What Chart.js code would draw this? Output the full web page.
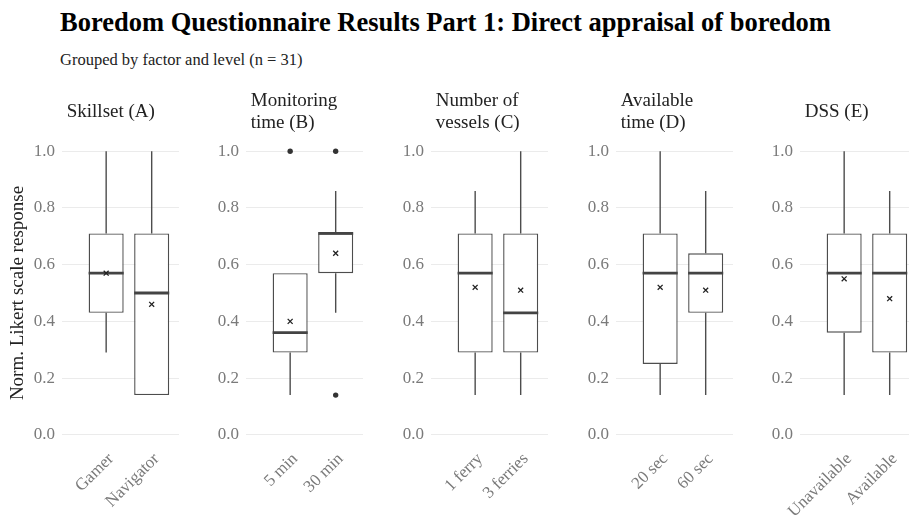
<!DOCTYPE html>
<html>
<head>
<meta charset="utf-8">
<script src="https://cdn.jsdelivr.net/npm/chart.js@4.4.1/dist/chart.umd.min.js"></script>
<style>
  body { margin: 0; width: 909px; height: 517px; overflow: hidden; background: #fff; position: relative; font-family: 'Liberation Serif', 'DejaVu Serif', serif; }
  #title { position: absolute; left: 60px; top: 7px; font-size: 26.5px; font-weight: bold; color: #000; white-space: nowrap; }
  #subtitle { position: absolute; left: 60px; top: 50px; font-size: 16.5px; color: #222; white-space: nowrap; }
  .panel { position: absolute; top: 80px; }
</style>
</head>
<body>
<div id="title">Boredom Questionnaire Results Part 1: Direct appraisal of boredom</div>
<div id="subtitle">Grouped by factor and level (n = 31)</div>

<script>
// facet titles and levels
const facetTitles = [['Skillset (A)'], ['Monitoring', 'time (B)'], ['Number of', 'vessels (C)'], ['Available', 'time (D)'], ['DSS (E)']];
const levels = [['Gamer', 'Navigator'], ['5 min', '30 min'], ['1 ferry', '3 ferries'], ['20 sec', '60 sec'], ['Unavailable', 'Available']];

// box statistics per facet: [level1, level2]
const whiskerLow = [[0.29, 0.14], [0.14, 0.43], [0.14, 0.14], [0.14, 0.14], [0.14, 0.14]];
const q1 = [[0.43, 0.14], [0.29, 0.57], [0.29, 0.29], [0.25, 0.43], [0.36, 0.29]];
const median = [[0.57, 0.50], [0.36, 0.71], [0.57, 0.43], [0.57, 0.57], [0.57, 0.57]];
const q3 = [[0.71, 0.71], [0.57, 0.71], [0.71, 0.71], [0.71, 0.64], [0.71, 0.71]];
const whiskerHigh = [[1.0, 1.0], [0.57, 0.86], [0.86, 1.0], [1.0, 0.86], [1.0, 0.86]];
const mean = [[0.57, 0.46], [0.40, 0.64], [0.52, 0.51], [0.52, 0.51], [0.55, 0.48]];
const outliers = [[[], []], [[1.0], [1.0, 0.14]], [[], []], [[], []], [[], []]];

const yTicks = [0, 0.2, 0.4, 0.6, 0.8, 1.0];

const FONT = "'Liberation Serif', 'DejaVu Serif', serif";
const LINE = '#4d4d4d';
const gridStarts = [62, 246, 431, 616, 800];
const plotW = 117;
const halfBox = 0.385;

Chart.defaults.font.family = FONT;

gridStarts.forEach((gs, f) => {
  const axisW = f === 0 ? 62 : 44;
  const div = document.createElement('div');
  div.className = 'panel';
  div.style.left = (gs - axisW) + 'px';
  const cv = document.createElement('canvas');
  cv.width = axisW + plotW;
  cv.height = 437;
  div.appendChild(cv);
  document.body.appendChild(div);

  const whiskers = [], medians = [], boxes = [], means = [], outs = [];
  for (let i = 0; i < 2; i++) {
    whiskers.push({x: i, y: whiskerLow[f][i]}, {x: i, y: q1[f][i]}, {x: i, y: null},
                  {x: i, y: q3[f][i]}, {x: i, y: whiskerHigh[f][i]}, {x: i, y: null});
    medians.push({x: i - halfBox, y: median[f][i]}, {x: i + halfBox, y: median[f][i]}, {x: i, y: null});
    boxes.push({x: i, y: [q1[f][i], q3[f][i]]});
    means.push({x: i, y: mean[f][i]});
    outliers[f][i].forEach(v => outs.push({x: i, y: v}));
  }

  const oneLine = facetTitles[f].length === 1;

  new Chart(cv, {
    type: 'bar',
    data: {
      datasets: [
        { type: 'scatter', data: means, pointStyle: 'crossRot', pointRadius: 3.5, borderColor: '#222', borderWidth: 1.3, order: 0 },
        { type: 'scatter', data: outs, pointStyle: 'circle', pointRadius: 2.7, backgroundColor: '#333', borderColor: '#333', borderWidth: 0, order: 0 },
        { type: 'line', data: medians, borderColor: '#444', borderWidth: 2.8, pointRadius: 0, spanGaps: false, order: 1 },
        { type: 'bar', data: boxes, backgroundColor: '#fff', borderColor: LINE, borderWidth: 1.4, borderSkipped: false,
          barPercentage: 2 * halfBox, categoryPercentage: 1, order: 2 },
        { type: 'line', data: whiskers, borderColor: LINE, borderWidth: 1.4, pointRadius: 0, spanGaps: false, order: 3 }
      ]
    },
    options: {
      responsive: false,
      animation: false,
      devicePixelRatio: 1,
      layout: { padding: 0, autoPadding: false },
      plugins: {
        legend: { display: false },
        tooltip: { enabled: false },
        title: {
          display: true,
          text: facetTitles[f].map(t => ' ' + t),
          align: 'start',
          fullSize: false,
          color: '#222',
          font: { size: 19, weight: 'normal', lineHeight: 1.2 },
          padding: oneLine ? { top: 20.6, bottom: 13.6 } : { top: 9.2, bottom: 2.2 }
        }
      },
      scales: {
        x: {
          type: 'linear',
          min: -0.97,
          max: 1.6,
          offset: false,
          grid: { display: false, drawTicks: false },
          border: { display: false },
          afterBuildTicks: s => { s.ticks = [{value: 0}, {value: 1}]; },
          afterFit: s => { s.height = 437 - 369; s.paddingLeft = 0; s.paddingRight = 0; },
          ticks: {
            minRotation: 45, maxRotation: 45, padding: 0, labelOffset: 5,
            color: '#7a7a7a',
            font: { size: 17 },
            callback: v => levels[f][v]
          }
        },
        y: {
          min: -0.05,
          max: 1.05,
          grid: { color: '#ebebeb', lineWidth: 1, drawTicks: false },
          border: { display: false },
          afterBuildTicks: s => { s.ticks = yTicks.map(v => ({value: v})); },
          afterFit: s => { s.width = axisW; },
          title: {
            display: f === 0,
            text: 'Norm. Likert scale response',
            color: '#222',
            font: { size: 19 },
            padding: { top: 7, bottom: 4 }
          },
          ticks: {
            padding: 7,
            color: '#7a7a7a',
            font: { size: 17 },
            callback: v => v.toFixed(1)
          }
        }
      }
    }
  });
});
</script>
</body>
</html>
